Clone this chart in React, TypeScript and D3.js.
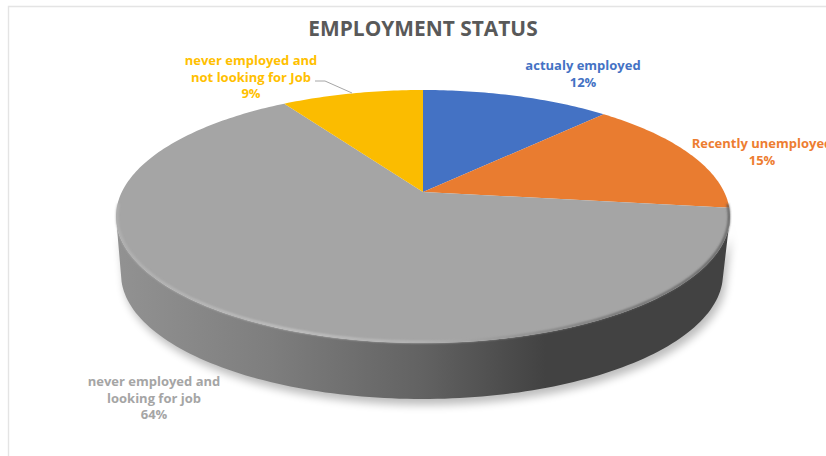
import React from "react";
import * as d3 from "d3";

const categories = ["actualy employed", "Recently unemployed", "never employed and looking for job", "never employed and not looking for Job"];
const shares = [12, 15, 64, 9];
const sliceColors = ["#4472C4", "#E97C30", "#A5A5A5", "#FBBC00"];
const titleText = "EMPLOYMENT STATUS";

// Tilted disc: the unit circle is projected through a homography, so the
// near half looks larger and the apex sits above the centre of the ellipse.
const ellipseX = 423;
const ellipseY = 216.5;
const radiusX = 307;
const radiusY = 126.5;
const apexY = 192;
const tilt = (apexY - ellipseY) / radiusY;
const spreadX = radiusX * Math.sqrt(1 - tilt * tilt);

const project = (angle: number): [number, number] => {
  const x = Math.sin(angle);
  const y = -Math.cos(angle);
  const d = 1 + tilt * y;
  return [ellipseX + (spreadX * x) / d, ellipseY + (radiusY * y + (apexY - ellipseY)) / d];
};

const line = d3.line<[number, number]>().x((p) => p[0]).y((p) => p[1]);

const arcPoints = (a0: number, a1: number): [number, number][] => {
  const n = Math.max(2, Math.ceil(Math.abs(a1 - a0) * 60));
  return d3.range(n + 1).map((i) => project(a0 + ((a1 - a0) * i) / n));
};

const ellipsePoint = (cx: number, cy: number, rx: number, ry: number, t: number): [number, number] => [
  cx + rx * Math.cos(t),
  cy + ry * Math.sin(t),
];

const sweep = (cx: number, cy: number, rx: number, ry: number, t0: number, t1: number): [number, number][] =>
  d3.range(121).map((i) => ellipsePoint(cx, cy, rx, ry, t0 + ((t1 - t0) * i) / 120));

// Side wall of the disc: lower half of the top rim down to the smaller base rim.
const topRim = sweep(ellipseX, ellipseY, radiusX, radiusY, 0, Math.PI);
const baseRim = sweep(422, 274, 301, 125, Math.PI * 0.98, Math.PI * 0.02);
const wallPath = line([...topRim, ...baseRim])! + "Z";
const nearRim = line(sweep(ellipseX, ellipseY, radiusX - 1, radiusY - 1, -0.1, Math.PI + 0.1))!;

const pie = d3.pie<number>().sort(null).value((d) => d);
const arcs = pie(shares);

const labelFont = "'Open Sans', 'Noto Sans', sans-serif";

type Label = { x: number; y: number; lines: string[]; color: string };
const pct = (i: number) => `${shares[i]}%`;
const labels: Label[] = [
  { x: 583, y: 70, lines: ["actualy employed", pct(0)], color: "#4472C4" },
  { x: 762, y: 148, lines: ["Recently unemployed", pct(1)], color: "#ED7D31" },
  { x: 154, y: 386, lines: ["never employed and", "looking for job", pct(2)], color: "#A5A5A5" },
  { x: 251, y: 65, lines: ["never employed and", "not looking for Job", pct(3)], color: "#FFC000" },
];

export default function App() {
  return (
    <svg
      width={826}
      height={456}
      viewBox="0 0 826 456"
      style={{ position: "absolute", left: 0, top: 0, display: "block", background: "#fff" }}
    >
      <defs>
        <linearGradient id="wallShade" gradientUnits="userSpaceOnUse" x1={116} x2={730} y1={0} y2={0}>
          <stop offset="0" stopColor="#929292" />
          <stop offset="0.25" stopColor="#7e7e7e" />
          <stop offset="0.5" stopColor="#626262" />
          <stop offset="0.7" stopColor="#424242" />
          <stop offset="1" stopColor="#424242" />
        </linearGradient>
        <linearGradient id="rimShade" gradientUnits="userSpaceOnUse" x1={116} x2={730} y1={0} y2={0}>
          <stop offset="0" stopColor="#b4b4b4" />
          <stop offset="0.3" stopColor="#c8c8c8" />
          <stop offset="0.5" stopColor="#b8b8b8" />
          <stop offset="0.66" stopColor="#8c8c8c" />
          <stop offset="0.8" stopColor="#6a6a6a" />
          <stop offset="1" stopColor="#555555" />
        </linearGradient>
        <filter id="soften" x="-5%" y="-5%" width="110%" height="115%">
          <feGaussianBlur stdDeviation="4" />
        </filter>
        <filter id="rimBlur" x="-5%" y="-5%" width="110%" height="110%">
          <feGaussianBlur stdDeviation="1.1" />
        </filter>
      </defs>

      {/* chart frame */}
      <path d="M8.5,456V6.5H826" fill="none" stroke="#e4e4e4" strokeWidth={1.4} />

      <text
        x={423}
        y={36}
        textAnchor="middle"
        fontFamily={labelFont}
        fontWeight={700}
        fontSize={20.9}
        fill="#595959"
      >
        {titleText}
      </text>

      {/* soft shadow under the disc */}
      <path d={wallPath} fill="#000" opacity={0.26} filter="url(#soften)" transform="translate(3,6)" />

      <path d={wallPath} fill="url(#wallShade)" />

      {arcs.map((a, i) => {
        const pts: [number, number][] = [[ellipseX, apexY], ...arcPoints(a.startAngle, a.endAngle)];
        return <path key={categories[i]} d={line(pts)! + "Z"} fill={sliceColors[i]} />;
      })}

      <path d={nearRim} fill="none" stroke="url(#rimShade)" strokeWidth={2} filter="url(#rimBlur)" />

      {/* leader line for the yellow slice */}
      <path d="M315,81H325L352,93" fill="none" stroke="#a6a6a6" strokeWidth={1} />

      {labels.map((l) => (
        <text
          key={l.lines[0] + l.x}
          textAnchor="middle"
          fontFamily={labelFont}
          fontWeight={700}
          fontSize={13}
          fill={l.color}
        >
          {l.lines.map((t, j) => (
            <tspan key={j} x={l.x} y={l.y + j * 16.5}>
              {t}
            </tspan>
          ))}
        </text>
      ))}
    </svg>
  );
}
